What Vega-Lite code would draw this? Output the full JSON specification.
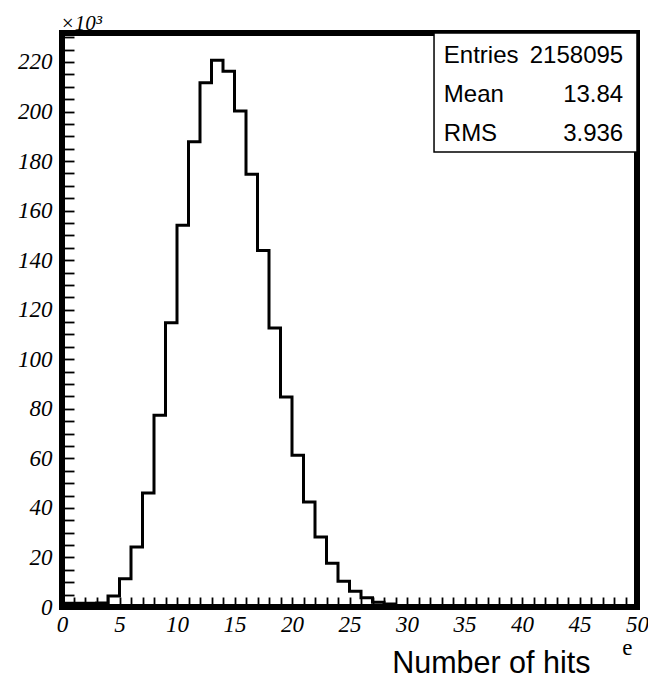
{
  "$schema": "https://vega.github.io/schema/vega-lite/v6.json",
  "width": 575,
  "height": 574,
  "autosize": {"type": "none"},
  "padding": {"left": 62, "top": 33, "right": 11, "bottom": 73},
  "background": "white",
  "config": {
    "view": {"stroke": "black", "strokeWidth": 6},
    "axis": {
      "domain": false, "grid": false, "ticks": true, "tickColor": "black", "tickWidth": 1.8,
      "labelOverlap": false, "labelFlush": false,
      "labelFont": "Liberation Serif", "labelFontStyle": "italic", "labelFontSize": 23, "labelColor": "black",
      "titleColor": "black", "titleFontWeight": "normal"
    },
    "axisX": {
      "tickCount": 50,
      "tickSize": -10,
      "labelExpr": "datum.value % 5 === 0 ? datum.label : ''",
      "labelPadding": 16,
      "titleFont": "Liberation Sans", "titleFontSize": 30.5,
      "titleAlign": "right", "titleX": 528, "titleY": 65, "titleBaseline": "alphabetic"
    },
    "axisY": {
      "tickCount": 46,
      "tickSize": -12,
      "labelExpr": "datum.value % 20 === 0 ? datum.label : ''",
      "labelPadding": 22,
      "titleFont": "Liberation Serif", "titleFontStyle": "italic", "titleFontSize": 21,
      "titleAngle": 0, "titleAlign": "left", "titleBaseline": "alphabetic", "titleX": -2, "titleY": -4
    }
  },
  "title": {"text": "e", "orient": "bottom", "anchor": "end", "font": "Liberation Serif", "fontSize": 23, "fontWeight": "normal", "color": "black", "dy": -46, "dx": -16},
  "datasets": {
    "hist": [
      {"bin": 0, "count": 1.5}, {"bin": 1, "count": 1.5}, {"bin": 2, "count": 1.5}, {"bin": 3, "count": 1.6},
      {"bin": 4, "count": 4.4}, {"bin": 5, "count": 11.4}, {"bin": 6, "count": 24.2}, {"bin": 7, "count": 46.0},
      {"bin": 8, "count": 77.4}, {"bin": 9, "count": 114.7}, {"bin": 10, "count": 154.1}, {"bin": 11, "count": 187.8},
      {"bin": 12, "count": 211.6}, {"bin": 13, "count": 220.7}, {"bin": 14, "count": 216.3}, {"bin": 15, "count": 200.2},
      {"bin": 16, "count": 174.7}, {"bin": 17, "count": 143.9}, {"bin": 18, "count": 112.6}, {"bin": 19, "count": 84.8},
      {"bin": 20, "count": 61.3}, {"bin": 21, "count": 42.4}, {"bin": 22, "count": 28.3}, {"bin": 23, "count": 17.7},
      {"bin": 24, "count": 10.4}, {"bin": 25, "count": 6.4}, {"bin": 26, "count": 3.7}, {"bin": 27, "count": 1.9},
      {"bin": 28, "count": 1.2}, {"bin": 29, "count": 0.5}, {"bin": 30, "count": 0}, {"bin": 31, "count": 0},
      {"bin": 32, "count": 0}, {"bin": 33, "count": 0}, {"bin": 34, "count": 0}, {"bin": 35, "count": 0},
      {"bin": 36, "count": 0}, {"bin": 37, "count": 0}, {"bin": 38, "count": 0}, {"bin": 39, "count": 0},
      {"bin": 40, "count": 0}, {"bin": 41, "count": 0}, {"bin": 42, "count": 0}, {"bin": 43, "count": 0},
      {"bin": 44, "count": 0}, {"bin": 45, "count": 0}, {"bin": 46, "count": 0}, {"bin": 47, "count": 0},
      {"bin": 48, "count": 0}, {"bin": 49, "count": 0}, {"bin": 50, "count": 0}
    ],
    "stats": [
      {"stat": "Entries", "value": "2158095"},
      {"stat": "Mean", "value": "13.84"},
      {"stat": "RMS", "value": "3.936"}
    ],
    "box": [{"box": "stats"}]
  },
  "layer": [
    {
      "data": {"name": "hist"},
      "mark": {"type": "line", "interpolate": "step-after", "color": "black", "strokeWidth": 3},
      "encoding": {
        "x": {"field": "bin", "type": "quantitative", "scale": {"domain": [0, 50], "nice": false, "zero": false}, "title": "Number of hits"},
        "y": {"field": "count", "type": "quantitative", "scale": {"domain": [0, 231.7], "nice": false}, "title": "×10³"}
      }
    },
    {
      "data": {"name": "box"},
      "mark": {"type": "rect", "fill": "white", "stroke": "black", "strokeWidth": 1.5},
      "encoding": {
        "x": {"datum": 32.35, "type": "quantitative", "title": "Number of hits"},
        "x2": {"datum": 50},
        "y": {"datum": 183.7, "type": "quantitative", "title": "×10³"},
        "y2": {"datum": 231.7}
      }
    },
    {
      "data": {"name": "stats"},
      "transform": [{"filter": "datum.stat === 'Entries'"}],
      "mark": {"type": "text", "align": "left", "baseline": "alphabetic", "font": "Liberation Sans", "fontSize": 24, "color": "black"},
      "encoding": {
        "x": {"datum": 33.2, "type": "quantitative", "title": "Number of hits"},
        "y": {"datum": 219.6, "type": "quantitative", "title": "×10³"},
        "text": {"field": "stat"}
      }
    },
    {
      "data": {"name": "stats"},
      "transform": [{"filter": "datum.stat === 'Entries'"}],
      "mark": {"type": "text", "align": "right", "baseline": "alphabetic", "font": "Liberation Sans", "fontSize": 24, "color": "black"},
      "encoding": {
        "x": {"datum": 48.8, "type": "quantitative", "title": "Number of hits"},
        "y": {"datum": 219.6, "type": "quantitative", "title": "×10³"},
        "text": {"field": "value"}
      }
    },
    {
      "data": {"name": "stats"},
      "transform": [{"filter": "datum.stat === 'Mean'"}],
      "mark": {"type": "text", "align": "left", "baseline": "alphabetic", "font": "Liberation Sans", "fontSize": 24, "color": "black"},
      "encoding": {
        "x": {"datum": 33.2, "type": "quantitative", "title": "Number of hits"},
        "y": {"datum": 203.7, "type": "quantitative", "title": "×10³"},
        "text": {"field": "stat"}
      }
    },
    {
      "data": {"name": "stats"},
      "transform": [{"filter": "datum.stat === 'Mean'"}],
      "mark": {"type": "text", "align": "right", "baseline": "alphabetic", "font": "Liberation Sans", "fontSize": 24, "color": "black"},
      "encoding": {
        "x": {"datum": 48.8, "type": "quantitative", "title": "Number of hits"},
        "y": {"datum": 203.7, "type": "quantitative", "title": "×10³"},
        "text": {"field": "value"}
      }
    },
    {
      "data": {"name": "stats"},
      "transform": [{"filter": "datum.stat === 'RMS'"}],
      "mark": {"type": "text", "align": "left", "baseline": "alphabetic", "font": "Liberation Sans", "fontSize": 24, "color": "black"},
      "encoding": {
        "x": {"datum": 33.2, "type": "quantitative", "title": "Number of hits"},
        "y": {"datum": 188.3, "type": "quantitative", "title": "×10³"},
        "text": {"field": "stat"}
      }
    },
    {
      "data": {"name": "stats"},
      "transform": [{"filter": "datum.stat === 'RMS'"}],
      "mark": {"type": "text", "align": "right", "baseline": "alphabetic", "font": "Liberation Sans", "fontSize": 24, "color": "black"},
      "encoding": {
        "x": {"datum": 48.8, "type": "quantitative", "title": "Number of hits"},
        "y": {"datum": 188.3, "type": "quantitative", "title": "×10³"},
        "text": {"field": "value"}
      }
    }
  ]
}
